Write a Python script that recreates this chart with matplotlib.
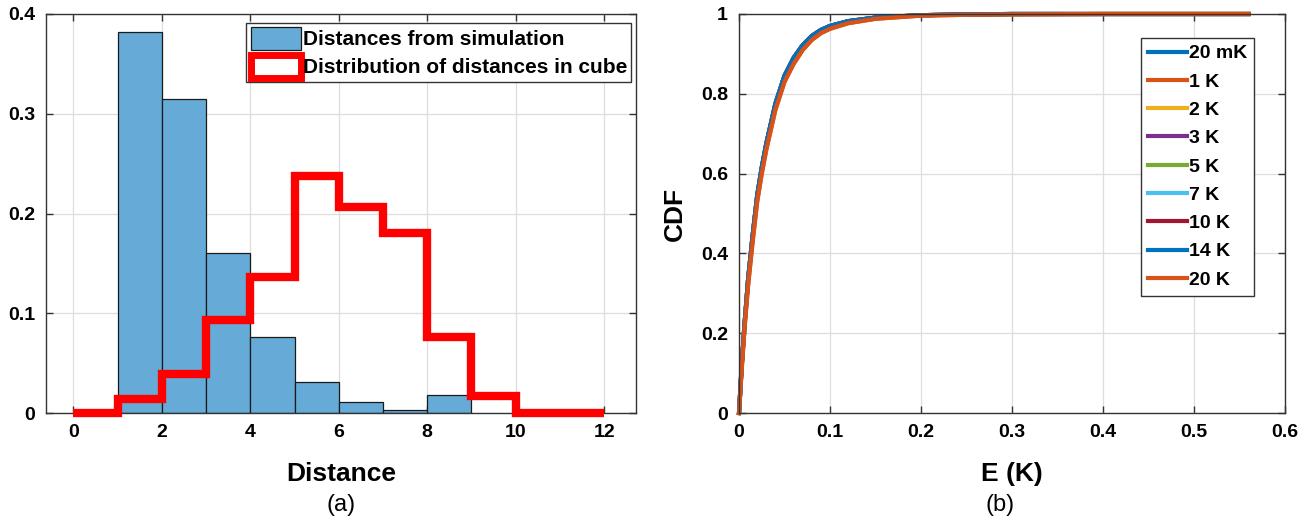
import numpy as np
import matplotlib
matplotlib.use("Agg")
import matplotlib.pyplot as plt
from matplotlib.patches import Patch

plt.rcParams['font.family'] = ['Liberation Sans', 'DejaVu Sans']

# (a) histograms
sim_edges = [1, 2, 3, 4, 5, 6, 7, 8, 9]
sim_vals = [0.382, 0.315, 0.160, 0.076, 0.031, 0.011, 0.003, 0.018]
cube_edges = [0, 1, 2, 3, 4, 5, 6, 7, 8, 9, 10, 11, 12]
cube_vals = [0.0, 0.014, 0.039, 0.093, 0.136, 0.238, 0.207, 0.180, 0.076, 0.017, 0.0, 0.0]

# (b) CDF curves
E = [0, 0.003, 0.006, 0.01, 0.015, 0.02, 0.025, 0.03, 0.04, 0.05, 0.06, 0.07, 0.08,
     0.09, 0.1, 0.12, 0.15, 0.2, 0.25, 0.3, 0.4, 0.5, 0.56]
cdf_low = [0, 0.11, 0.21, 0.32, 0.43, 0.53, 0.60, 0.66, 0.76, 0.83, 0.875, 0.91, 0.935,
           0.952, 0.963, 0.977, 0.988, 0.996, 0.998, 0.999, 1.0, 1.0, 1.0]
cdf_high = [0, 0.12, 0.22, 0.335, 0.445, 0.545, 0.615, 0.675, 0.775, 0.845, 0.89, 0.922, 0.945,
            0.96, 0.97, 0.982, 0.991, 0.997, 0.999, 1.0, 1.0, 1.0, 1.0]
labels = ['20 mK', '1 K', '2 K', '3 K', '5 K', '7 K', '10 K', '14 K', '20 K']
colors = ['#0072BD', '#D95319', '#EDB120', '#7E2F8E', '#77AC30', '#4DBEEE', '#A2142F', '#0072BD', '#D95319']
series = [cdf_high, cdf_low, cdf_high, cdf_high, cdf_high, cdf_high, cdf_high, cdf_high, cdf_low]

fig = plt.figure(figsize=(13.07, 5.19), dpi=100)
W, H = 1307, 519
ax1 = fig.add_axes([46 / W, (H - 413) / H, 590 / W, 399 / H])
ax2 = fig.add_axes([739 / W, (H - 413) / H, 546 / W, 399 / H])

for ax in (ax1, ax2):
    ax.grid(True, color='#dddddd', lw=0.9)
    ax.set_axisbelow(True)
    ax.tick_params(direction='in', top=True, right=True, length=5, width=1,
                   labelsize=14, pad=8, color='#333333')
    for sp in ax.spines.values():
        sp.set_color('#333333')
        sp.set_linewidth(1.0)

ax1.bar(sim_edges[:-1], sim_vals, width=1, align='edge', color='#66AAD7',
        edgecolor='#1a1a1a', lw=0.9, zorder=2)
ax1.stairs(cube_vals, cube_edges, color='#FF0000', lw=6, zorder=3, clip_on=False)
ax1.set_xlim(-0.62, 12.72)
ax1.set_ylim(0, 0.4)
ax1.set_xticks([0, 2, 4, 6, 8, 10, 12])
ax1.set_xticklabels(['0', '2', '4', '6', '8', '10', '12'], fontweight='bold')
ax1.set_yticks([0, 0.1, 0.2, 0.3, 0.4])
ax1.set_yticklabels(['0', '0.1', '0.2', '0.3', '0.4'], fontweight='bold')
ax1.set_xlabel('Distance', fontsize=19, fontweight='bold', labelpad=15)
handles = [Patch(facecolor='#66AAD7', edgecolor='#1a1a1a', lw=0.9),
           Patch(facecolor='white', edgecolor='#FF0000', lw=5)]
leg1 = ax1.legend(handles, ['Distances from simulation', 'Distribution of distances in cube'],
                  loc='upper right', bbox_to_anchor=(0.992, 0.978), fancybox=False,
                  edgecolor='#333333', framealpha=1, handlelength=2.4, handleheight=1.3,
                  handletextpad=0.1, labelspacing=0.25, borderpad=0.2, borderaxespad=0,
                  prop={'size': 15, 'weight': 'bold'})
leg1.get_frame().set_linewidth(1.0)
fig.text(341 / W, 1 - 505 / H, '(a)', ha='center', va='center', fontsize=17)

for vals, col, lab in zip(series, colors, labels):
    ax2.plot(E, vals, color=col, lw=3, label=lab, clip_on=False)
ax2.set_xlim(0, 0.6)
ax2.set_ylim(0, 1)
ax2.set_xticks([0, 0.1, 0.2, 0.3, 0.4, 0.5, 0.6])
ax2.set_xticklabels(['0', '0.1', '0.2', '0.3', '0.4', '0.5', '0.6'], fontweight='bold')
ax2.set_yticks([0, 0.2, 0.4, 0.6, 0.8, 1])
ax2.set_yticklabels(['0', '0.2', '0.4', '0.6', '0.8', '1'], fontweight='bold')
ax2.set_xlabel('E (K)', fontsize=19, fontweight='bold', labelpad=15)
ax2.set_ylabel('CDF', fontsize=19, fontweight='bold', labelpad=10)
leg2 = ax2.legend(loc='upper right', bbox_to_anchor=(0.943, 0.94), fancybox=False,
                  edgecolor='#333333', framealpha=1, handlelength=2.0, handletextpad=0.1,
                  labelspacing=0.55, borderpad=0.35, borderaxespad=0,
                  prop={'size': 14, 'weight': 'bold'})
leg2.get_frame().set_linewidth(1.0)
fig.text(1000 / W, 1 - 505 / H, '(b)', ha='center', va='center', fontsize=17)

fig.savefig('out.png', dpi=100)
